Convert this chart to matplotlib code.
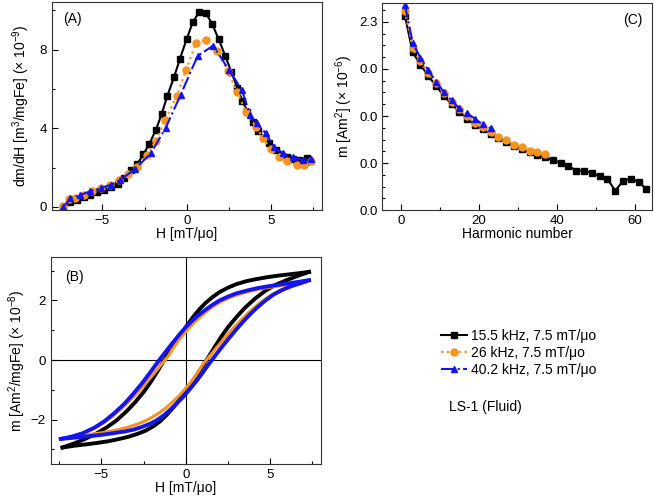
import matplotlib
matplotlib.use("Agg")
import matplotlib.pyplot as plt
from matplotlib.ticker import MultipleLocator, FixedLocator, FixedFormatter

plt.rcParams['font.family'] = ['Liberation Sans', 'DejaVu Sans']
plt.rcParams['mathtext.fontset'] = 'custom'
plt.rcParams['mathtext.rm'] = 'Liberation Sans'
plt.rcParams['mathtext.it'] = 'Liberation Sans:italic'

# colours / series names
labels = ['15.5 kHz, 7.5 mT/μo', '26 kHz, 7.5 mT/μo', '40.2 kHz, 7.5 mT/μo']
c_black = '#000000'
c_orange = '#f7931e'
c_blue = '#1414f0'

# ---- (A) dm/dH vs H ----
hA_black = [-7.30, -6.90, -6.50, -6.10, -5.70, -5.30, -4.90, -4.50, -4.10, -3.70, -3.30,
            -2.92, -2.57, -2.21, -1.82, -1.48, -1.15, -0.75, -0.40, 0.00, 0.36, 0.75,
            1.14, 1.50, 1.89, 2.28, 2.65, 3.00, 3.30, 3.60, 3.90, 4.25, 4.60, 4.90,
            5.30, 5.60, 5.95, 6.30, 6.65, 7.00, 7.15, 7.30]
dA_black = [0.00, 0.25, 0.35, 0.48, 0.62, 0.75, 0.88, 1.00, 1.15, 1.45, 1.87,
            2.18, 2.67, 3.21, 3.93, 4.73, 5.65, 6.60, 7.54, 8.54, 9.41, 9.92,
            9.85, 9.32, 8.54, 7.69, 6.85, 6.05, 5.40, 4.85, 4.30, 3.86, 3.50, 3.25,
            2.88, 2.65, 2.52, 2.45, 2.40, 2.30, 2.50, 2.35]
hA_orange = [-7.30, -7.00, -6.60, -6.10, -5.60, -5.10, -4.55, -4.00, -3.45, -2.92, -2.37,
             -1.82, -1.28, -0.59, -0.04, 0.55, 1.14, 1.81, 2.44, 3.00, 3.51, 4.10,
             4.53, 4.97, 5.44, 5.92, 6.54, 6.94, 7.34]
dA_orange = [0.05, 0.40, 0.45, 0.60, 0.80, 0.95, 1.10, 1.35, 1.65, 2.04, 2.64,
             3.37, 4.42, 5.65, 6.97, 8.34, 8.51, 7.91, 6.91, 5.82, 4.83, 4.08,
             3.49, 2.93, 2.55, 2.31, 2.11, 2.11, 2.35]
hA_blue = [-7.30, -6.90, -6.30, -5.70, -5.10, -4.50, -3.95, -3.08, -2.13, -1.24, -0.36,
           0.65, 1.57, 2.52, 3.27, 3.75, 4.14, 4.69, 5.17, 5.72, 6.31, 6.90, 7.34]
dA_blue = [0.00, 0.43, 0.60, 0.80, 0.95, 1.12, 1.36, 1.91, 2.72, 4.03, 5.70,
           7.69, 8.20, 6.94, 5.95, 4.68, 4.25, 3.74, 3.06, 2.72, 2.52, 2.38, 2.42]

# ---- (B) hysteresis loops, upper (descending) and lower (ascending) branches ----
hB_black_up = [7.3, 6.6, 6.0, 5.4, 4.8, 4.2, 3.6, 3.0, 2.5, 2.0, 1.6, 1.2, 0.8, 0.4, 0.0,
               -0.4, -0.8, -1.1, -1.4, -1.75, -2.1, -2.5, -3.0, -3.5, -4.1, -4.7, -5.3,
               -6.0, -6.6, -7.3]
mB_black_up = [2.96, 2.91, 2.87, 2.83, 2.78, 2.72, 2.65, 2.55, 2.43, 2.28, 2.12, 1.93, 1.70,
               1.42, 1.10, 0.76, 0.42, 0.16, -0.12, -0.45, -0.76, -1.08, -1.42, -1.72,
               -2.03, -2.27, -2.47, -2.66, -2.80, -2.94]
hB_black_lo = [-7.3, -6.6, -6.0, -5.3, -4.6, -4.0, -3.4, -2.9, -2.4, -1.9, -1.5, -1.1, -0.7,
               -0.3, 0.0, 0.4, 0.8, 1.1, 1.4, 1.75, 2.1, 2.5, 3.0, 3.5, 4.1, 4.7, 5.3, 6.0,
               6.6, 7.3]
mB_black_lo = [-2.94, -2.88, -2.84, -2.79, -2.73, -2.66, -2.58, -2.49, -2.38, -2.22, -2.05,
               -1.83, -1.57, -1.28, -1.05, -0.72, -0.38, -0.12, 0.15, 0.47, 0.78, 1.10,
               1.44, 1.75, 2.06, 2.32, 2.52, 2.69, 2.82, 2.96]
hB_orange_up = [7.1, 6.5, 5.9, 5.3, 4.7, 4.1, 3.5, 3.0, 2.5, 2.0, 1.6, 1.2, 0.8, 0.4, 0.0,
                -0.4, -0.8, -1.05, -1.4, -1.8, -2.2, -2.7, -3.2, -3.7, -4.3, -4.9, -5.5,
                -6.2, -6.7, -7.1]
mB_orange_up = [2.62, 2.57, 2.52, 2.47, 2.42, 2.35, 2.27, 2.18, 2.07, 1.93, 1.79, 1.62,
                1.42, 1.20, 0.95, 0.68, 0.35, 0.12, -0.12, -0.40, -0.67, -1.00, -1.30,
                -1.58, -1.88, -2.13, -2.32, -2.48, -2.56, -2.62]
hB_orange_lo = [-7.1, -6.5, -5.9, -5.3, -4.7, -4.1, -3.5, -3.0, -2.5, -2.0, -1.6, -1.2,
                -0.8, -0.4, 0.0, 0.4, 0.8, 1.05, 1.4, 1.8, 2.2, 2.7, 3.2, 3.7, 4.3, 4.9,
                5.5, 6.2, 6.7, 7.1]
mB_orange_lo = [-2.62, -2.57, -2.52, -2.47, -2.42, -2.35, -2.27, -2.18, -2.07, -1.93, -1.79,
                -1.62, -1.42, -1.20, -0.95, -0.68, -0.35, -0.12, 0.12, 0.40, 0.67, 1.00,
                1.30, 1.58, 1.88, 2.13, 2.32, 2.48, 2.56, 2.62]
hB_blue_up = [7.3, 6.6, 6.0, 5.4, 4.8, 4.2, 3.6, 3.0, 2.5, 2.0, 1.6, 1.2, 0.8, 0.4, 0.0,
              -0.4, -0.8, -1.2, -1.5, -1.8, -2.2, -2.6, -3.1, -3.6, -4.2, -4.8, -5.4,
              -6.1, -6.8, -7.4]
mB_blue_up = [2.68, 2.62, 2.57, 2.52, 2.47, 2.41, 2.33, 2.24, 2.13, 2.00, 1.86, 1.70, 1.53,
              1.33, 1.10, 0.84, 0.56, 0.27, 0.05, -0.18, -0.49, -0.79, -1.13, -1.45,
              -1.77, -2.05, -2.27, -2.46, -2.58, -2.65]
hB_blue_lo = [-7.4, -6.8, -6.1, -5.4, -4.8, -4.2, -3.6, -3.1, -2.6, -2.1, -1.7, -1.3, -0.9,
              -0.5, -0.15, 0.2, 0.6, 1.0, 1.35, 1.7, 2.1, 2.6, 3.0, 3.4, 3.8, 4.2, 4.7,
              5.2, 5.7, 6.2, 6.8, 7.3]
mB_blue_lo = [-2.65, -2.62, -2.58, -2.54, -2.50, -2.45, -2.40, -2.34, -2.25, -2.14, -2.02,
              -1.86, -1.66, -1.44, -1.24, -1.01, -0.73, -0.43, -0.15, 0.11, 0.41, 0.76,
              1.03, 1.29, 1.53, 1.75, 1.99, 2.20, 2.35, 2.47, 2.58, 2.68]

# ---- (C) harmonic amplitudes (plotted on the tick scale of the original) ----
n_black = [1, 3, 5, 7, 9, 11, 13, 15, 17, 19, 21, 23, 25, 27, 29, 31, 33, 35, 37, 39,
           41, 43, 45, 47, 49, 51, 53, 55, 57, 59, 61, 63]
c_black_vals = [4.13, 3.35, 3.09, 2.85, 2.64, 2.43, 2.25, 2.09, 1.94, 1.81, 1.72, 1.62,
                1.53, 1.45, 1.37, 1.30, 1.23, 1.17, 1.12, 1.06, 1.01, 0.94, 0.84, 0.84,
                0.79, 0.73, 0.67, 0.41, 0.62, 0.67, 0.60, 0.45]
n_orange = [1, 3, 5, 7, 9, 11, 13, 15, 17, 19, 21, 23, 25, 27, 29, 31, 33, 35, 37]
c_orange_vals = [4.23, 3.45, 3.16, 2.92, 2.70, 2.48, 2.30, 2.14, 1.99, 1.86, 1.77, 1.66,
                 1.56, 1.50, 1.39, 1.35, 1.26, 1.23, 1.19]
n_blue = [1, 3, 5, 7, 9, 11, 13, 15, 17, 19, 21, 23]
c_blue_vals = [4.36, 3.56, 3.23, 2.97, 2.73, 2.51, 2.33, 2.16, 2.06, 1.94, 1.82, 1.74]
c_ticks = [0, 1, 2, 3, 4]
c_ticklabels = ['0.0', '0.0', '0.0', '0.0', '2.3']

fig = plt.figure(figsize=(6.54, 5.04), dpi=100)
axA = fig.add_axes([0.079, 0.583, 0.413, 0.414])
axB = fig.add_axes([0.0775, 0.079, 0.413, 0.411])
axC = fig.add_axes([0.5846, 0.583, 0.412, 0.411])


def style(ax):
    ax.tick_params(which='both', direction='in', top=False, right=False, labelsize=9.5)
    ax.tick_params(which='major', length=4, width=0.8)
    ax.tick_params(which='minor', length=2.5, width=0.8)
    for s in ax.spines.values():
        s.set_linewidth(0.8)
        s.set_color('#333333')


# (A)
lA1, = axA.plot(hA_black, dA_black, '-', color=c_black, marker='s', ms=4, lw=1.5)
lA2, = axA.plot(hA_orange, dA_orange, ':', color=c_orange, marker='o', ms=5, lw=1.6)
lA3, = axA.plot(hA_blue, dA_blue, '-.', color=c_blue, marker='^', ms=5, lw=1.5)
axA.set_xlim(-8, 8)
axA.set_ylim(-0.17, 10.45)
axA.xaxis.set_major_locator(MultipleLocator(5))
axA.xaxis.set_minor_locator(MultipleLocator(2.5))
axA.yaxis.set_major_locator(MultipleLocator(4))
axA.yaxis.set_minor_locator(MultipleLocator(2))
axA.set_xlabel('H [mT/μo]', fontsize=10, labelpad=0)
axA.set_ylabel('dm/dH [m$^3$/mgFe] (× 10$^{-9}$)', fontsize=10, labelpad=5)
axA.text(0.042, 0.917, '(A)', transform=axA.transAxes, fontsize=10, va='center')
style(axA)

# (B)
axB.axhline(0, color='black', lw=0.8)
axB.axvline(0, color='black', lw=0.8)
axB.plot(hB_black_up, mB_black_up, '-', color=c_black, lw=2.8)
axB.plot(hB_black_lo, mB_black_lo, '-', color=c_black, lw=2.8)
axB.plot(hB_orange_up, mB_orange_up, '-', color=c_orange, lw=2.2)
axB.plot(hB_orange_lo, mB_orange_lo, '-', color=c_orange, lw=2.2)
axB.plot(hB_blue_up, mB_blue_up, '-', color=c_blue, lw=2.8)
axB.plot(hB_blue_lo, mB_blue_lo, '-', color=c_blue, lw=2.8)
axB.set_xlim(-8, 8)
axB.set_ylim(-3.5, 3.46)
axB.xaxis.set_major_locator(MultipleLocator(5))
axB.xaxis.set_minor_locator(MultipleLocator(2.5))
axB.yaxis.set_major_locator(MultipleLocator(2))
axB.yaxis.set_minor_locator(MultipleLocator(1))
axB.set_xlabel('H [mT/μo]', fontsize=10, labelpad=0)
axB.set_ylabel('m [Am$^2$/mgFe] (× 10$^{-8}$)', fontsize=10, labelpad=2)
axB.text(0.053, 0.902, '(B)', transform=axB.transAxes, fontsize=10, va='center')
style(axB)

# (C)
axC.plot(n_black, c_black_vals, '-', color=c_black, marker='s', ms=4, lw=1.5)
axC.plot(n_orange, c_orange_vals, ':', color=c_orange, marker='o', ms=5, lw=1.6)
axC.plot(n_blue, c_blue_vals, '-.', color=c_blue, marker='^', ms=5, lw=1.5)
axC.set_xlim(-4.8, 64.4)
axC.set_ylim(0, 4.4)
axC.xaxis.set_major_locator(MultipleLocator(20))
axC.xaxis.set_minor_locator(MultipleLocator(10))
axC.yaxis.set_major_locator(FixedLocator(c_ticks))
axC.yaxis.set_major_formatter(FixedFormatter(c_ticklabels))
axC.yaxis.set_minor_locator(MultipleLocator(0.25))
axC.set_xlabel('Harmonic number', fontsize=10, labelpad=0)
axC.set_ylabel('m [Am$^2$] (× 10$^{-6}$)', fontsize=10, labelpad=3)
axC.text(0.964, 0.918, '(C)', transform=axC.transAxes, fontsize=10, va='center', ha='right')
style(axC)

fig.legend([lA1, lA2, lA3], labels, loc='upper left', bbox_to_anchor=(0.674, 0.348),
           frameon=False, fontsize=10, handlelength=1.9, handletextpad=0.3,
           labelspacing=0.22, borderpad=0, borderaxespad=0)
fig.text(449 / 654, 1 - 406.7 / 504, 'LS-1 (Fluid)', fontsize=10, va='center')

fig.savefig('out.png', dpi=100)
